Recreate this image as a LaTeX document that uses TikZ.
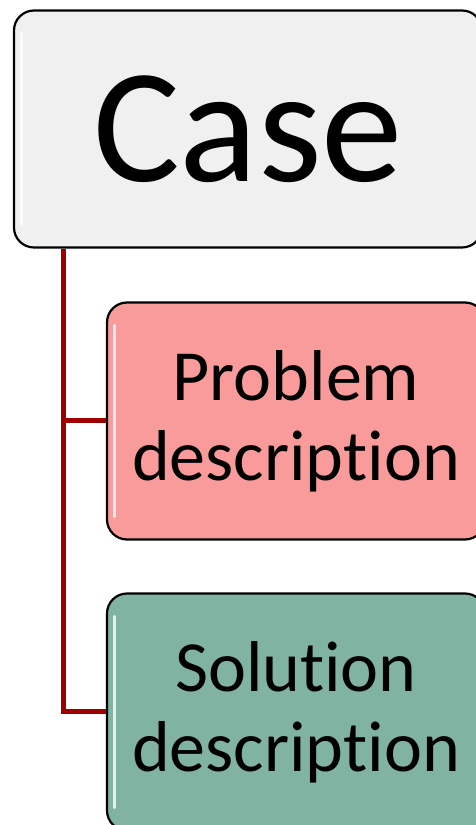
\documentclass[tikz,border=0pt]{standalone}
\usepackage{fontspec}
\setmainfont[Ligatures=NoCommon]{Carlito}
\definecolor{casefill}{HTML}{F0F0F0}
\definecolor{probfill}{HTML}{F99B9B}
\definecolor{solfill}{HTML}{80B3A1}
\definecolor{branchred}{HTML}{A00000}
\tikzset{
  box/.style={draw=black, line width=2.2pt, rounded corners=20pt, inner sep=0pt, align=center},
  branch/.style={draw=branchred, line width=5pt},
  shine/.style={draw=white, line width=3pt, line cap=round, opacity=0.8}
}
\begin{document}
\begin{tikzpicture}[x=1pt,y=1pt]
\useasboundingbox (0,0) rectangle (476,825);

\node[box, fill=casefill, minimum width=468pt, minimum height=237pt,
  font=\fontsize{163}{180}\selectfont] (case) at (248,696) {Case};
\node[box, fill=probfill, minimum width=378pt, minimum height=237pt,
  font=\fontsize{72}{80}\selectfont] (prob) at (296,404) {Problem\\description};
\node[box, fill=solfill, minimum width=378pt, minimum height=237pt,
  font=\fontsize{72}{80}\selectfont] (sol) at (296,113) {Solution\\description};

% glossy edges
\foreach \b in {case,prob,sol} {
  \draw[shine] ([xshift=9pt,yshift=-24pt]\b.north west) -- ([xshift=9pt,yshift=24pt]\b.south west);
}

\coordinate (spine) at (63,0 |- case.south);
\draw[branch] (spine) |- (sol.west);
\draw[branch] (spine |- prob.west) -- (prob.west);
\end{tikzpicture}
\end{document}
